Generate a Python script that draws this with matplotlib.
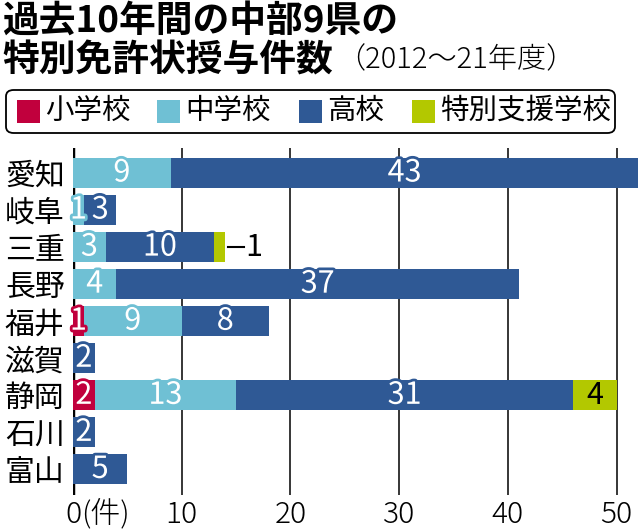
import matplotlib
matplotlib.use("Agg")
import matplotlib.pyplot as plt
import matplotlib.patheffects as pe
from matplotlib.patches import FancyBboxPatch, Rectangle

plt.rcParams['font.family'] = ['Noto Sans CJK JP', 'DejaVu Sans']

prefectures = ["愛知", "岐阜", "三重", "長野", "福井", "滋賀", "静岡", "石川", "富山"]
categories = ["小学校", "中学校", "高校", "特別支援学校"]
elementary = [0, 0, 0, 0, 1, 0, 2, 0, 0]
junior_high = [9, 1, 3, 4, 9, 0, 13, 0, 0]
high_school = [43, 3, 10, 37, 8, 2, 31, 2, 5]
special_needs = [0, 0, 1, 0, 0, 0, 4, 0, 0]
xticks = [0, 10, 20, 30, 40, 50]

colors = ["#C1003D", "#6FC0D4", "#2F5995", "#B3C800"]
series = [elementary, junior_high, high_school, special_needs]

W, H = 640, 530
fig = plt.figure(figsize=(6.4, 5.3), dpi=100)
ax = fig.add_axes([73 / W, 35 / H, 567 / W, 347 / H])

# title
fig.text(2 / W, 1 - 21 / H, "過去10年間の中部9県の", fontsize=26.5,
         fontweight="bold", va="center", ha="left")
fig.text(2 / W, 1 - 61 / H, "特別免許状授与件数", fontsize=26.5,
         fontweight="bold", va="center", ha="left")
fig.text(336 / W, 1 - 60 / H, "（2012〜21年度）", fontsize=21,
         fontweight="light", va="center", ha="left")

# legend box
fig.patches.append(FancyBboxPatch((6 / W, 1 - 133 / H), 609 / W, 43 / H,
                                  boxstyle="round,pad=0,rounding_size=0.012",
                                  transform=fig.transFigure, fc="white",
                                  ec="black", lw=1.3))
leg_x = [17, 157, 299, 412]
for cat, col, lx in zip(categories, colors, leg_x):
    fig.patches.append(Rectangle((lx / W, 1 - 123 / H), 23 / W, 23 / H,
                                 transform=fig.transFigure, fc=col, ec="none"))
    fig.text((lx + 28) / W, 1 - 111 / H, cat, fontsize=20.5,
             va="center", ha="left")

# bars
rows = list(range(len(prefectures)))
left = [0] * len(prefectures)
for vals, col, cat in zip(series, colors, categories):
    ax.barh(rows, vals, left=left, height=0.81, color=col, zorder=3, label=cat)
    for i, v in enumerate(vals):
        if v == 0:
            continue
        cx = left[i] + v / 2
        if cat == "特別支援学校" and v == 1:
            end = left[i] + v
            ax.plot([end + 0.3, end + 1.7], [i, i], color="black", lw=1.5,
                    zorder=4)
            ax.text(end + 2.6, i, str(v), fontsize=22, va="center",
                    ha="center", color="black", zorder=5)
        elif cat == "特別支援学校":
            ax.text(cx, i, str(v), fontsize=22, va="center", ha="center",
                    color="black", zorder=5)
        else:
            ax.text(cx, i, str(v), fontsize=22, va="center", ha="center",
                    color="white", zorder=5,
                    path_effects=[pe.withStroke(linewidth=4, foreground=col)])
    left = [a + b for a, b in zip(left, vals)]

ax.set_xlim(0, 52.16)
ax.set_ylim(8.69, -0.675)
for t in xticks[1:]:
    ax.axvline(t, color="black", lw=1.1, zorder=1)
ax.axvline(0, color="black", lw=2.5, zorder=2)

for s in ax.spines.values():
    s.set_visible(False)
ax.set_yticks(rows)
ax.set_yticklabels(prefectures, fontsize=21.5)
ax.set_xticks(xticks)
ax.set_xticklabels([str(t) for t in xticks], fontsize=21.5, fontweight="light")
ax.tick_params(axis="y", length=0, pad=6)
ax.tick_params(axis="x", length=0, pad=3)
ax.annotate("(件)", xy=(0, 0), xycoords=("data", "axes fraction"),
            xytext=(6, -3), textcoords="offset points", va="top",
            ha="left", fontsize=21.5, fontweight="light")

fig.savefig("out.png", dpi=100)
